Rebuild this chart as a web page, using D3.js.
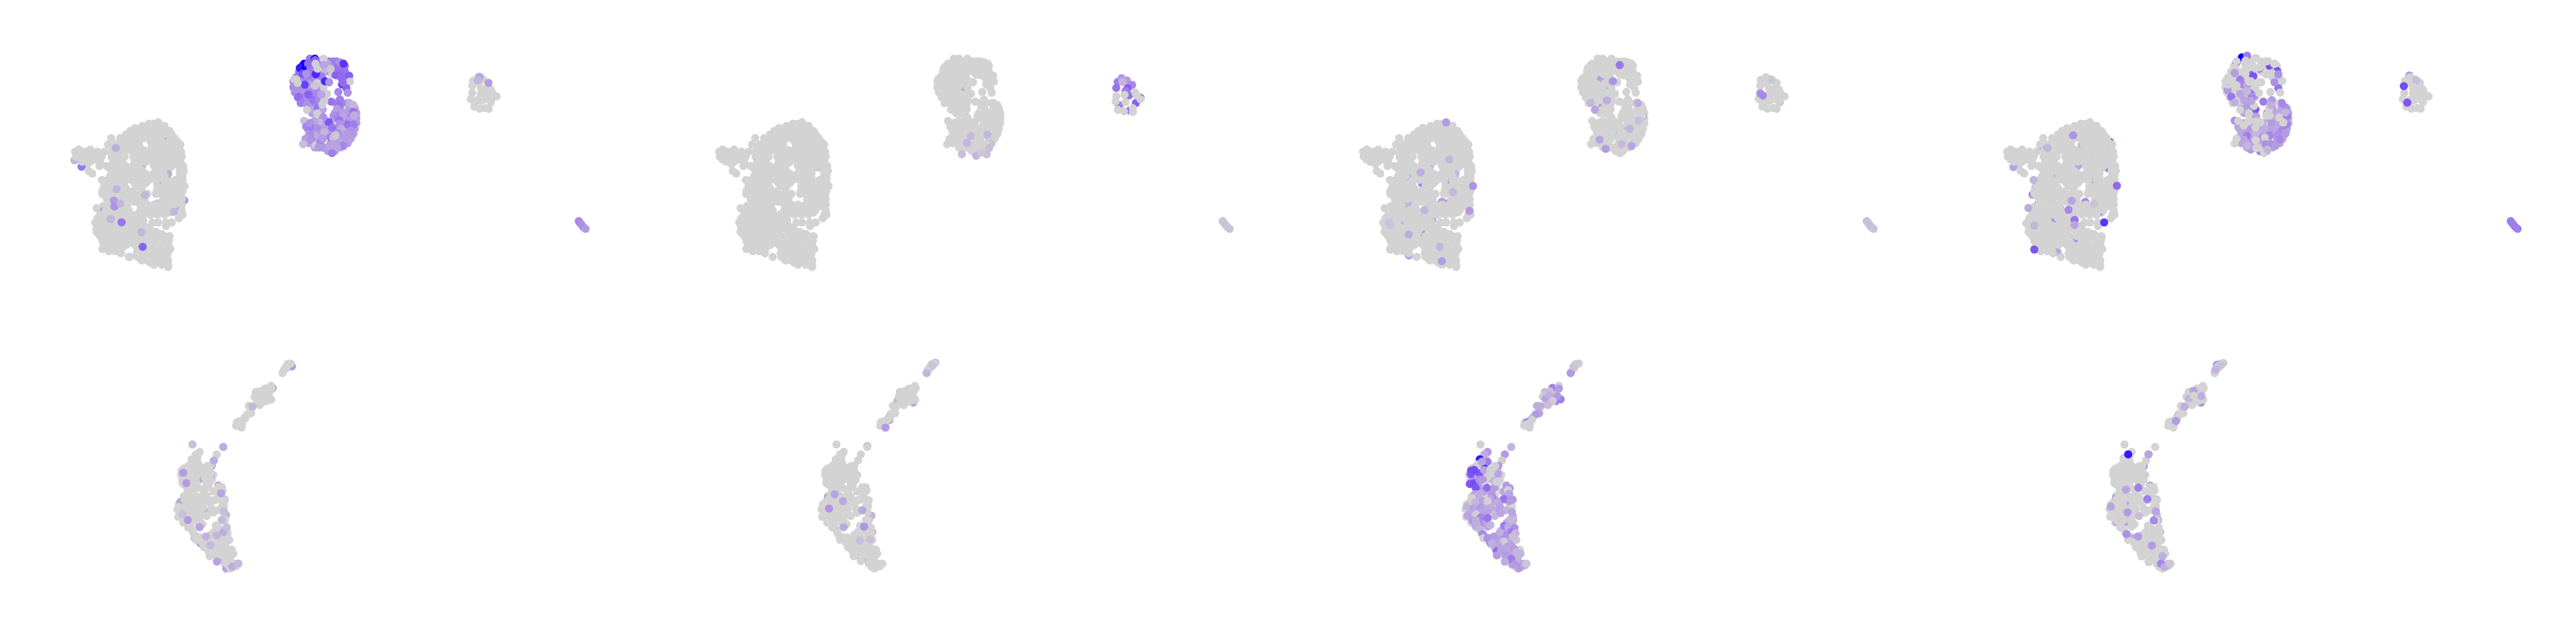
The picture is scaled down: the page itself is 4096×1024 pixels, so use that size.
<!DOCTYPE html>
<html><head><meta charset="utf-8">
<script src="https://cdn.jsdelivr.net/npm/d3@7"></script>
<style>html,body{margin:0;padding:0;background:#fff;overflow:hidden}svg{display:block}</style>
</head><body><svg id="c" width="4096" height="1024"></svg>
<script>
// Embedding coordinates. Values: 0 = lightgrey, 1 = full blue.
const mainRows = [[45,[655]],[55,[590,625]],[70,[545,700]],[85,[493,580,620,660]],[105,[460,530,570,610,650,695,735]],
[130,[430,480,520,560,600,640,680,725,750]],[155,[327,390,430,470,510,550,590,630,770]],[175,[450,490,525,600,640,680,735,775]],
[200,[305,360,390,430,470,520,610,650,690,735,810]],[225,[410,450,490,530,620,665,710,760,800]],[235,[100,180]],
[250,[75,130,160,230,280,330,370,410,500,545,590,640,700,750,815]],[285,[80,110,145,185,225,260,330,380,420,480,520,565,610,660,700,760,820]],
[320,[125,180,250,340,385,490,530,570,620,660,715,775,810]],[350,[245,295,345,385,430,480,520,625,665,750,800,830]],
[385,[170,335,375,425,465,505,545,640,690,805,835]],[402,[195]],[420,[320,370,440,480,520,560,600,650,700,815,825]],
[448,[262,300,350,430,470,510,550,590,640,700,775,825]],[490,[280,320,375,420,510,545,650,700,755,795,840]],
[525,[265,300,345,390,430,480,645,690,730,780,825]],[545,[265,310,360,410,450,490,530,580,640,680,720,770,815]],
[580,[295,335,385,430,470,515,560,690,735,775,820]],[620,[300,340,440,530,580,625,680,725,770,820]],[645,[225]],
[660,[290,340,400,450,530,570,620,665,710,750,820]],[690,[250,300,350,400,450,500,550,600,650,700,810,825]],
[715,[230,280,330,430,480,530,800]],[745,[215,265,310,450,500,550,615,655,710,750]],[770,[710]],
[780,[230,280,330,380,430,480,530,575]],[810,[225,260,300,340,380,420,460,570,620,640]],
[840,[250,290,330,370,410,450,510,560,610,660,700,735]],[870,[265,300,340,380,420,460,510,600,640,730]],
[900,[275,315,355,395,435,490,530,590,630,690,725]],[930,[265,300,340,385,510,560,600,650,700,740]],
[960,[395,505,550,590,640,690,720]],[985,[450,510,545,580,625,670,715]],[1010,[540,580,630,680,725]],[1040,[625,680,725]],[1055,[725]]];
const mainFillRows = [[70,[600,640,680]],[115,[500,590,630,670,715]],[145,[540,620,660,700]],[180,[410,470,510,615,660,700,790]],[215,[340,380,430,510,640,685,725,780]],
[240,[440,475,520,560,600,650,730,790]],[270,[100,150,200,245,350,395,500,540,585,625,675,725,785]],[305,[100,160,210,345,400,505,550,595,640,690,740,795]],
[335,[160,365,410,500,550,640,685,720,790]],[365,[315,360,410,450,490,530,650,700,735,815]],[405,[350,400,450,490,530,570,620,670,720,810]],
[435,[330,380,445,490,535,575,620,670,720,800]],[470,[300,345,390,490,530,570,680,725,780,815]],[505,[290,340,390,430,540,680,720,760,810]],
[535,[285,330,375,420,460,660,710,760,800]],[565,[310,350,400,440,480,520,560,690,730,790]],[600,[320,370,410,450,490,540,700,745,790]],
[630,[270,320,380,420,550,600,650,700,750,795]],[675,[270,320,370,420,550,600,645,690,735]],[700,[275,325,375,425,475,525]],[730,[250,300,350,400,450,500,550]],
[760,[235,285,335,385,435,485,535]],[795,[250,295,345,395,445,495,545,600]],[825,[240,280,320,360,400,440,590,640,680]],[855,[275,315,355,395,435,475,540,590,640,690]],
[885,[290,330,370,410,450,560,610,720]],[915,[285,325,365,410,540,610,660,710]],[945,[310,355,530,570,620,670,720]],[970,[530,570,610,660,705]],[1000,[560,610,660,705]],[1025,[600,650,700]]];

const smallBase = [[1240,210],[1205,235],[1275,225],[1200,270],[1245,250],[1310,250],[1330,295],[1260,285],[1300,290],[1200,320],[1260,325],[1300,330],[1340,320],[1370,343],[1335,360],[1190,362],[1235,370],[1280,365],[1215,385],[1260,375],[1330,385],[1215,415],[1250,430],[1290,425],[1315,430]];
const tailBase = [[3594,735],[3603,747],[3615,762],[3627,777],[3642,789]];

// y, xs, value in panel 1, value in panel 4
const blueFillRows = [[100,[170,220,290,340],.55,0],[130,[100,180,230,330,370,400],.55,0],[170,[80,130,170,220,290,350,400],.55,0],[210,[60,100,150,200,240,370,410],.55,0],
[240,[40,90,130,170,230],.45,0],[280,[40,80,130,170,220],.45,0],[315,[50,100,180,220],.45,0],[350,[70,120,170,220,250],.45,0],[390,[90,140,190,225,340,380,420],.45,0],
[430,[150,200,240,370,430,470],.33,.28],[460,[170,230,330,390,430,480],.33,.28],[495,[240,340,380,450,480],.33,.28],[530,[130,170,210,250,300,390,440,480],.33,.28],
[570,[140,180,230,280,340,410,450,470],.33,.28],[605,[150,200,240,280,330,380,430,460],.33,.28],[640,[150,190,230,340,400,440],.33,.28],[670,[150,190,300,340,400,420],.33,.28],
[700,[190,230,270,310,370],.33,.28],[725,[280,330],.33,.28]];

const p1Blue = [[155,80,.55],[115,115,1],[85,145,.95],[190,80,1],[128,140,1],[160,150,.5],[45,225,.05],[60,260,.4],[55,295,.4],[105,295,.4],[150,260,.3],[230,195,.5],[260,160,.2],[318,100,.5],[365,105,.4],[390,115,.85],[275,110,.3],[300,150,.1],[310,190,.05],[335,195,.65],[375,195,.6],[430,200,.65],[435,240,.05],[380,260,.85],[410,285,.65],[384,245,.6],[420,318,.4],[354,313,.45],[305,380,.55],[175,370,.55],[218,372,.45],[145,330,.65],[77,347,.6],[100,387,.5],[135,400,.4],[180,440,.3],[210,425,.55],[245,435,.3],[135,437,.05],[207,462,.05],[243,400,.05],[255,375,.05],[275,325,.05],[250,280,.05],[235,330,.3],[240,205,.5],[197,187,.9],[261,238,.9],[290,245,.4],[205,250,.05],[190,270,.1],[120,262,.8],[70,250,.03],[60,225,.03],[105,185,.7],[130,185,.4],[142,115,.6],[192,90,.65],[208,150,.03],[195,115,.05],[250,80,.03],[252,125,.3],[345,475,.4],[365,365,.5],[360,405,.55],[345,430,.35],[320,480,.4],[350,478,.45],[433,390,.25],[460,405,.2],[458,452,.55],[415,490,.45],[440,512,.35],[465,475,.25],[390,480,.3],[360,510,.55],[362,535,.4],[286,522,.7],[250,490,.4],[220,525,.2],[187,515,.3],[115,515,.15],[130,555,.45],[162,557,.5],[207,565,.4],[312,563,.55],[378,570,.25],[255,592,.2],[420,540,.55],[460,540,.5],[442,580,.4],[410,610,.35],[450,615,.35],[390,625,.35],[350,600,.4],[300,630,.5],[318,632,.15],[335,615,.1],[190,620,.25],[160,610,.4],[125,640,.35],[167,648,.4],[108,677,.15],[195,685,.05],[229,662,.45],[247,640,.35],[255,703,.35],[290,695,.3],[320,675,.3],[365,680,.35],[390,690,.45],[345,700,.3],[310,740,.5],[215,700,.35],[155,530,.4]];
const blueBase = p1Blue.map(d => [d[0], d[1]]);

const p1MainUnder = [[712,178,.4],[120,355,.55],[70,310,.2],[278,495,.35],[425,590,.35],[268,668,.35],[650,480,.35],[725,405,.25],[838,590,.35],[800,630,.35],[540,358,.2],[225,790,.15],[650,610,.1],[310,750,.3],[455,985,.15]];
const p1MainOver = [[360,225,.25],[345,592,.35],[350,632,.4],[390,612,.2],[365,512,.2],[563,553,.2],[765,670,.2],[323,720,.2],[400,743,.55],[537,812,.2],[547,915,.65]];
const p1SmallOver = [[1251,207,.3],[1314,249,.35],[1239,231,.2]];
const p1Tail = [[3594,735,.45],[3603,747,.45],[3615,762,.4],[3627,777,.4],[3642,789,.35]];

const p2BlueUnder = [[227,279,.25],[385,748,.12],[416,674,.12]];
const p2BlueOver = [[248,669,.2],[274,621,.18],[390,611,.2],[401,705,.15],[311,758,.2],[211,748,.15],[348,737,.1]];
const p2MainUnder = [[446,660,.3],[768,360,.1]];
const p2Small = [[1211,242,.5],[1237,216,.35],[1200,284,.55],[1274,232,.35],[1311,263,.45],[1243,242,.2],[1279,286,.65],[1264,305,.5],[1290,337,.55],[1369,353,.6],[1337,390,.65],[1221,405,.5],[1295,442,.6],[1200,342,0],[1258,332,0],[1332,316,0],[1343,337,0],[1195,379,0],[1264,384,0],[1369,363,0],[1316,426,0],[1253,448,0],[1211,437,0],[1316,453,0]];
const p2Tail = [[3594,735,.12],[3603,747,.1],[3615,762,.12],[3627,777,.1],[3642,789,.12]];

const p3MainUnder = [[492,85,.35],[595,143,.45],[615,130,.2],[505,150,.2],[488,215,.35],[705,210,.6],[730,235,.4],[540,358,.2],[565,420,.2],[720,405,.2],[660,460,.35],[350,425,.35],[375,425,.2],[428,420,.2],[485,470,.5],[725,525,.45],[340,560,.6],[625,600,.35],[655,610,.3],[750,640,.25],[390,615,.2],[300,670,.15],[330,745,.2],[480,815,.45],[575,795,.3],[560,730,.2],[730,850,.5],[265,932,.4],[350,900,.2],[395,975,.35]];
const p3MainOver = [[655,45,.35],[677,305,.2],[476,395,.25],[843,490,.4],[703,532,.2],[503,657,.2],[818,663,.35],[393,828,.25],[611,915,.2],[255,745,.12],[265,765,.12],[625,1015,.35]];
const p3BlueUnder = [[470,478,.25],[450,610,.2],[155,400,.35],[175,225,.3],[230,265,.3],[265,610,.2],[340,565,.2]];
const p3BlueOver = [[308,125,.55],[260,238,.4],[218,372,.25],[435,390,.25],[105,388,.2],[135,437,.3],[440,513,.15],[377,570,.2],[168,645,.3],[320,677,.18],[390,690,.3],[210,710,.35]];
const p3SmallUnder = [[1240,210,.2],[1205,230,.25],[1312,250,.35],[1300,350,.3],[1335,385,.35],[1220,385,.35]];
const p3SmallOver = [[1280,228,.1],[1200,323,.4],[1218,338,.45]];
const p3Tail = [[3594,735,.15],[3603,747,.12],[3615,762,.15],[3627,777,.15],[3642,789,.12]];

const p4BlueUnder = [[155,71,1],[118,105,.9],[192,59,.5],[230,191,.6],[143,226,.5],[163,260,.45],[56,300,.35],[192,266,.3],[180,312,.2],[143,326,.3],[81,346,.55],[217,323,.5],[217,369,.4],[168,369,.3],[105,386,.25],[192,415,.35],[242,440,.7],[255,482,.3],[105,513,.4],[130,559,.3],[205,564,.4],[225,524,.3],[255,593,.2],[190,619,.5],[168,645,.3],[230,662,.35],[192,691,.25],[217,714,.4],[402,165,.7],[350,130,.75],[410,285,.55],[235,200,.7],[277,150,.6],[305,380,.5],[250,435,.7],[460,420,.4],[470,480,.5],[220,375,.3],[250,485,.3],[220,530,.3],[205,565,.35],[255,595,.2],[310,565,.25],[360,530,.35],[375,570,.3],[435,580,.45],[460,600,.35],[470,540,.45],[305,630,.45],[350,615,.45],[405,615,.4],[420,645,.45],[228,663,.35],[213,710,.35],[290,730,.5],[240,340,.45]];
const p4BlueGrey = [[180,94,0],[255,76,0],[330,99,0],[380,117,0],[105,145,0],[192,134,0],[280,140,0],[330,185,0],[118,99,0],[56,214,0],[180,186,0],[217,237,0],[280,243,0],[56,260,0],[118,266,0],[250,75,0],[320,100,0],[385,115,0],[290,130,0],[325,190,0],[365,180,0],[250,150,0],[290,245,0],[205,240,0],[250,280,0],[275,320,0],[355,313,0],[422,317,0],[438,237,0],[240,410,0],[345,432,0],[205,462,0],[325,478,0],[350,478,0],[415,490,0],[445,525,0],[285,525,0],[200,520,0],[250,560,0],[315,632,0],[255,705,0],[310,740,0],[250,650,0],[143,438,0],[205,461,0],[130,516,0],[168,547,0],[205,507,0],[118,639,0],[105,673,0],[280,702,0],[255,518,0]];
const p4BlueOver = [[105,180,.35],[410,190,.4],[383,245,.4],[365,370,.35],[435,390,.45],[360,405,.25],[460,455,.2],[190,310,.2],[220,375,.3],[320,678,.4],[365,680,.4],[390,690,.35],[335,715,.2],[195,690,.2]];
const p4MainUnder = [[646,92,1],[459,107,.35],[696,220,.7],[795,182,.6],[596,199,.2],[646,245,.35],[310,228,.5],[136,262,.4],[119,358,.3],[417,371,.4],[571,348,.3],[783,366,.5],[427,417,.2],[658,457,.3],[273,498,.3],[253,549,.5],[298,595,.45],[342,587,.35],[621,601,.45],[720,670,.5],[576,775,.55],[211,750,.2],[410,716,.4],[546,859,.4],[733,848,.55],[626,867,.55],[427,951,.3],[671,968,.2],[447,647,.3],[360,905,.2]];
const p4MainOver = [[536,136,.4],[357,224,.2],[260,448,.2],[842,488,.6],[526,593,.3],[683,613,.12],[504,656,.45],[223,643,.25],[546,727,.55],[753,744,.85],[546,762,.3],[265,767,.2],[265,934,.7]];
const p4SmallUnder = [[1235,197,.35],[1308,255,.35],[1296,351,.35]];
const p4SmallOver = [[1284,231,.15],[1197,272,.75],[1221,387,.7]];
const p4Tail = [[3594,735,.5],[3603,747,.5],[3615,762,.5],[3627,777,.5],[3642,789,.5]];

// Second row
const lowerBase = [[982,122],[960,135],[945,145],[925,180],[935,160],[843,258],[848,272],[800,275],[770,290],[745,295],[835,290],[800,310],[760,310],[730,325],[820,320],[780,340],[745,345],[845,342],[810,350],[765,375],[715,382],[690,380],[705,425],[680,430],[665,455],[650,465],[620,475],[600,500],[637,512],[510,630],[295,615],[345,660],[320,675],[465,675],[445,712],[290,705],[315,720],[340,740],[280,735],[420,745],[400,745],[235,760],[218,775],[270,770],[310,775],[365,770],[350,750],
[230,785],[285,785],[345,785],[385,785],[420,785],[225,815],[265,815],[320,815],[380,815],[415,815],[225,850],[265,850],[320,850],[420,835],[395,850],[260,880],[340,880],[390,880],[310,880],[255,915],[300,915],[375,915],[240,950],[290,950],[345,950],[385,945],[475,875],[500,875],[460,900],[505,895],[480,905],[510,955],[460,950],[520,955],[420,975],[200,995],[240,995],[290,995],[345,995],[365,995],[430,1005],[505,1000],[205,1040],[250,1040],[300,1040],[350,1040],[395,1050],[440,1030],[475,1015],[510,1025],[240,1075],[290,1075],[345,1075],[500,1075],[520,1075],[265,1100],[345,1115],[365,1100],[460,1110],[290,1130],[490,1130],[535,1120],[310,1165],[420,1165],[465,1165],[510,1165],[540,1155],[320,1195],[390,1190],[460,1195],[530,1195],[360,1210],[430,1210],[490,1210],[545,1195],[375,1240],[430,1240],[490,1240],[530,1240],[410,1270],[460,1270],[510,1270],[555,1270],[580,1280],[415,1295],[470,1295],[520,1295],[560,1300],[465,1325],[530,1325],[540,1345],[575,1345],[615,1340],[560,1370],[600,1355]];
const lowerFill = [[770,300],[790,295],[815,295],[790,325],[760,335],[820,300],[800,335],[740,320],[780,360],[755,360],[835,330],[830,270],[700,420],[660,450],[640,470],[615,490],[640,495],[605,480],[960,125],[930,170],[950,150],[330,690],[300,720],[330,720],[260,750],[300,745],[345,770],[380,765],[415,770],[440,800],[225,770],
[215,800],[250,800],[300,800],[340,800],[395,800],[225,830],[245,830],[290,830],[345,830],[400,830],[430,830],[240,860],[290,860],[395,860],[410,860],[270,890],[300,890],[375,890],[440,900],[235,930],[270,930],[320,930],[360,930],[395,930],[220,965],[260,965],[310,965],[360,965],[200,980],[250,980],[300,980],[355,980],[410,965],[440,955],[480,945],[505,985],[190,1010],[225,1010],[270,1010],[320,1010],[375,1010],[195,1055],[225,1055],[275,1055],[325,1055],[230,1090],[280,1090],[330,1090],[265,1120],[280,1120],[300,1150],[440,1150],[490,1150],[340,1180],[370,1180],[410,1180],[440,1180],[490,1180],[520,1180],[370,1225],[400,1225],[460,1225],[515,1225],[400,1255],[445,1255],[475,1255],[510,1255],[540,1255],[570,1255],[445,1285],[495,1285],[540,1285],[480,1310],[520,1310],[520,1340],[560,1340],[590,1340],[540,1360],[580,1360],[520,1060],[515,990],[490,940],[520,1080]];

const b1Under = [[990,140,.35],[855,272,.4],[740,295,.2],[730,325,.12],[690,380,.12],[287,790,.3],[345,820,.3],[420,815,.35],[260,880,.35],[520,950,.25],[430,745,.3],[210,965,.3],[350,1000,.3],[405,1025,.15],[530,1045,.2],[460,1110,.3],[310,1185,.2],[350,1215,.4],[550,1195,.2],[575,1280,.2],[510,1310,.15],[530,1370,.3],[455,1180,.3],[260,1095,.2],[475,865,.3]];
const b1Over = [[510,630,.25],[295,615,.15],[444,712,.25],[715,385,.18],[230,787,.35],[252,850,.35],[262,1075,.35],[345,1118,.3],[500,1075,.18],[390,1175,.22],[420,1228,.18],[465,1168,.2],[512,1147,.25],[534,1120,.15],[572,1358,.25],[615,1340,.18],[466,1328,.3],[495,912,.3],[515,1022,.15],[225,1038,.15]];
const b2Under = [[985,118,.3],[740,295,.2],[830,360,.3],[690,380,.12],[675,430,.2],[665,465,.4],[510,625,.3],[235,935,.3],[545,1150,.3],[540,1048,.2],[445,1290,.25],[480,1310,.2],[720,350,.2]];
const b2Over = [[282,918,.3],[243,1005,.38],[340,960,.28],[475,1015,.28],[345,1118,.28],[488,1115,.38],[637,512,.35],[458,1200,.15],[530,1192,.15],[965,135,.12],[925,180,.2]];
const b3All = [[982,122,.05],[925,180,.35],[945,140,.12],[960,130,.1],[798,270,.5],[855,340,.5],[820,350,.5],[843,258,.03],[780,290,.15],[745,295,.15],[730,325,.05],[750,335,.3],[780,318,.25],[842,275,.35],[832,320,.35],[800,350,.05],[765,375,.15],[715,382,.25],[690,380,.25],[705,425,.3],[680,432,.35],[650,465,.5],[620,480,.45],[600,500,.03],[637,512,.03],[655,465,.03],[625,490,.03],[295,615,.03],[510,630,.2],[345,660,.35],[322,675,.25],[465,675,.35],[445,712,.05],[420,745,.35],[290,705,.95],[315,742,1],[280,735,.05],[345,720,.5],[305,720,.3],[235,760,.05],[230,775,.75],[228,795,.7],[285,790,.7],[250,770,.75],[320,770,.3],[365,770,.05],[398,745,.03],[345,810,.03],[380,790,.03],[420,795,.3],[220,855,.7],[252,850,.75],[262,880,.7],[285,830,.4],[310,828,.35],[340,878,.6],[393,878,.35],[420,840,.03],[408,843,.03],[475,865,.35],[500,880,.35],[460,900,.3],[487,893,.03],[495,915,.3],[255,918,.3],[285,918,.25],[373,915,.35],[385,945,.45],[366,947,.3],[345,960,.03],[235,940,.03],[225,970,.03],[458,947,.55],[505,955,.35],[520,950,.35],[415,968,.25],[258,968,.2],[200,993,.2],[243,1005,.3],[295,1000,.35],[370,1000,.25],[430,992,.3],[475,1015,.2],[515,1025,.3],[345,1022,.3],[315,1028,.3],[265,1040,.05],[205,1048,.3],[395,1050,.2],[437,1033,.3],[520,1050,.3],[500,1075,.2],[525,1075,.2],[240,1078,.35],[297,1058,.45],[263,1078,.25],[345,1063,.55],[290,1100,.4],[265,1095,.25],[345,1115,.3],[365,1105,.2],[460,1110,.5],[490,1115,.25],[533,1122,.4],[512,1147,.5],[290,1130,.2],[310,1160,.45],[315,1185,.03],[345,1185,.4],[390,1175,.35],[465,1168,.4],[430,1150,.25],[540,1155,.2],[545,1195,.1],[520,1175,.15],[460,1205,.07],[360,1210,.4],[375,1215,.25],[420,1230,.3],[485,1235,.3],[410,1265,.6],[410,1290,.35],[440,1260,.3],[530,1250,.35],[575,1280,.2],[545,1270,.2],[558,1297,.2],[472,1290,.35],[510,1312,.5],[465,1328,.25],[535,1345,.35],[560,1370,.3],[573,1360,.35],[605,1350,.25],[617,1340,.1]];
const b3Fill = [[240,830,.35],[300,800,.3],[345,790,.25],[380,830,.2],[280,870,.35],[320,900,.3],[270,950,.25],[310,960,.3],[340,995,.25],[400,960,.25],[420,1010,.3],[480,890,.25],[490,960,.3],[250,1020,.3],[220,1030,.25],[280,1030,.3],[310,1070,.3],[260,1110,.25],[330,1100,.3],[480,1090,.25],[440,1140,.3],[470,1140,.3],[500,1180,.3],[420,1190,.3],[380,1195,.3],[450,1230,.3],[510,1215,.3],[400,1250,.3],[480,1265,.3],[520,1280,.3],[550,1320,.25],[515,1345,.3],[585,1340,.25]];
const b4Under = [[985,120,.35],[925,178,.6],[940,130,.35],[745,295,.3],[730,325,.4],[830,360,.4],[690,380,.15],[675,430,.3],[430,745,.45],[290,700,.3],[230,770,.6],[365,760,.3],[420,795,.3],[475,865,.3],[500,880,.3],[235,940,.3],[335,965,.3],[520,950,.2],[295,1000,.35],[350,1020,.2],[225,1040,.2],[295,1055,.3],[240,1085,.3],[290,1100,.35],[530,1075,.25],[520,1045,.2],[460,1110,.4],[518,1175,.4],[550,1195,.2],[545,1150,.25],[345,1185,.25],[375,1215,.2],[410,1275,.45],[415,1295,.25],[465,1328,.3],[535,1250,.25],[575,1280,.2]];
const b4Over = [[970,132,.12],[930,160,.2],[778,288,.3],[745,335,.2],[832,320,.25],[715,385,.25],[655,472,.35],[462,675,.3],[321,675,.95],[305,890,.3],[392,878,.5],[455,947,.5],[200,993,.3],[316,1028,.35],[397,1050,.15],[515,1022,.3],[500,1077,.45],[310,1160,.4],[390,1175,.35],[487,1230,.35],[560,1295,.25],[550,1340,.45],[575,1360,.25],[605,1345,.2],[615,1340,.1],[265,1075,.03],[462,1168,.03],[415,1228,.03],[780,318,0]];

const rowsToPts = rows => rows.flatMap(([y, xs]) => xs.map(x => [x, y]));
const grey = pts => pts.map(p => [p[0], p[1], 0]);
const mainBase = rowsToPts(mainRows), mainFill = rowsToPts(mainFillRows);
const blueFillP1 = blueFillRows.flatMap(([y, xs, a]) => xs.map(x => [x, y, a]));
const blueFillP4 = blueFillRows.flatMap(([y, xs, a, b]) => xs.map(x => [x, y, b]));
const blueFillGrey = grey(blueFillP1);

// origins of the separately read clusters, in embedding units
const blueShift = [1560, -480], smallShift = [1650, -480], noShift = [0, 0];
const at = (pts, s) => pts.map(p => [p[0] + s[0], p[1] + s[1], p[2] || 0]);
const mainLayer = (under, over) => [...at(grey(mainFill),noShift),...at(under,noShift),...at(grey(mainBase),noShift),...at(over,noShift)];

const topLayers = [
  [...mainLayer(p1MainUnder,p1MainOver),...at(blueFillP1,blueShift),...at(p1Blue,blueShift),...at(grey(smallBase),smallShift),...at(p1SmallOver,smallShift),...p1Tail],
  [...mainLayer(p2MainUnder,[]),...at(blueFillGrey,blueShift),...at(p2BlueUnder,blueShift),...at(grey(blueBase),blueShift),...at(p2BlueOver,blueShift),...at(p2Small,smallShift),...p2Tail],
  [...mainLayer(p3MainUnder,p3MainOver),...at(blueFillGrey,blueShift),...at(p3BlueUnder,blueShift),...at(grey(blueBase),blueShift),...at(p3BlueOver,blueShift),...at(p3SmallUnder,smallShift),...at(grey(smallBase),smallShift),...at(p3SmallOver,smallShift),...p3Tail],
  [...mainLayer(p4MainUnder,p4MainOver),...at(blueFillP4,blueShift),...at(p4BlueUnder,blueShift),...at(p4BlueGrey,blueShift),...at(p4BlueOver,blueShift),...at(p4SmallUnder,smallShift),...at(grey(smallBase),smallShift),...at(p4SmallOver,smallShift),...p4Tail]
];
const lowGrey = grey(lowerBase), lowFill = grey(lowerFill);
const lowLayers = [[...lowFill,...b1Under,...lowGrey,...b1Over],[...lowFill,...b2Under,...lowGrey,...b2Over],[...lowFill,...b3Fill,...b3All],[...lowFill,...b4Under,...lowGrey,...b4Over]];

const k = 4096 / 6000, panelW = 1500 * k, radius = 9.5 * k;
const color = d3.scalePow().exponent(1.15).domain([0, 1]).range(["#D3D3D3", "#0000FF"]).interpolate(d3.interpolateLab);
const xTop = d3.scaleLinear().domain([0, 4500]).range([150 * k, 1650 * k]);
const yTop = d3.scaleLinear().domain([0, 3000]).range([270 * k, 1270 * k]);
const xLow = d3.scaleLinear().domain([0, 1200]).range([350 * k, 750 * k]);
const yLow = d3.scaleLinear().domain([0, 1568]).range([800 * k, 1400 * k]);

const svg = d3.select("#c");
function row(layers, x, y, name) {
  layers.forEach((pts, i) => {
    svg.append("g").attr("class", name + (i + 1)).attr("transform", `translate(${i * panelW},0)`)
      .selectAll("circle").data(pts).join("circle")
      .attr("cx", d => x(d[0])).attr("cy", d => y(d[1])).attr("r", radius).attr("fill", d => color(d[2]));
  });
}
row(topLayers, xTop, yTop, "top");
row(lowLayers, xLow, yLow, "low");
</script></body></html>
